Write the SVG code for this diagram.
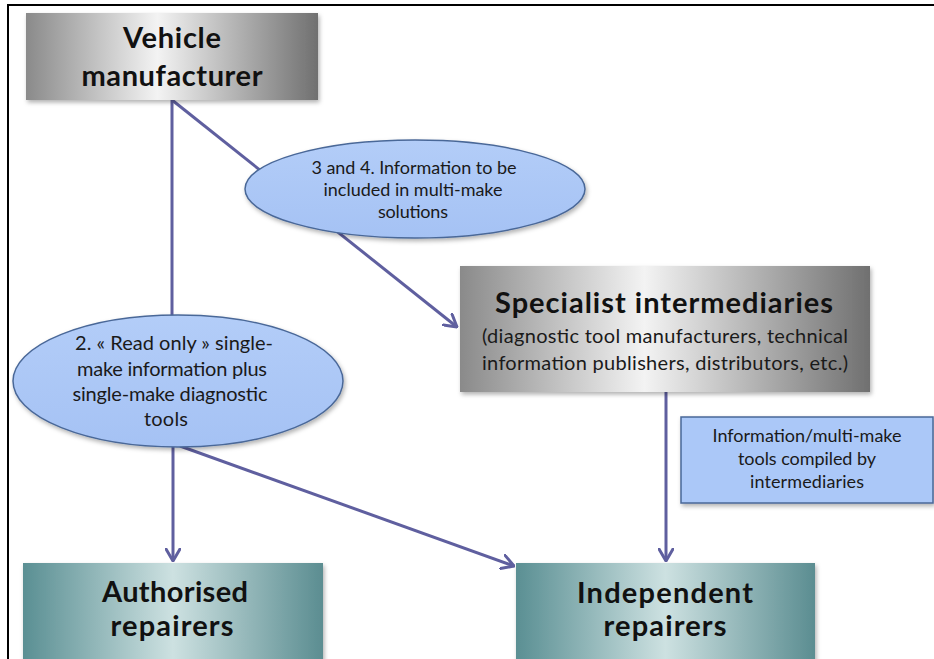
<svg xmlns="http://www.w3.org/2000/svg" width="934" height="659" viewBox="0 0 934 659">
  <style>
    .title { font-family: Lato, "Open Sans", "Liberation Sans", sans-serif; font-weight: bold; font-size: 29px; fill: #111; text-anchor: middle; }
    .sub { font-family: Lato, "Open Sans", "Liberation Sans", sans-serif; font-size: 20px; fill: #1a1a1a; text-anchor: middle; }
    .note { font-family: Lato, "Open Sans", "Liberation Sans", sans-serif; font-size: 18px; fill: #1a1a1a; text-anchor: middle; }
    .conn { stroke: #5f5f9f; stroke-width: 3; fill: none; }
    .bubble { fill: url(#blueFill); stroke: #4a6898; stroke-width: 1.5; filter: url(#shadow); }
  </style>
  <defs>
    <linearGradient id="grayFill" x1="0" y1="0" x2="1" y2="0">
      <stop offset="0" stop-color="#8a8a8a"/>
      <stop offset="0.45" stop-color="#f3f3f3"/>
      <stop offset="1" stop-color="#707070"/>
    </linearGradient>
    <linearGradient id="tealFill" x1="0" y1="0" x2="1" y2="0">
      <stop offset="0" stop-color="#5a8f93"/>
      <stop offset="0.5" stop-color="#cde1e1"/>
      <stop offset="1" stop-color="#5b8d91"/>
    </linearGradient>
    <linearGradient id="blueFill" x1="0" y1="0" x2="0" y2="1">
      <stop offset="0" stop-color="#b3cdf8"/>
      <stop offset="1" stop-color="#a5c2f4"/>
    </linearGradient>
    <filter id="shadow" x="-10%" y="-10%" width="125%" height="130%">
      <feDropShadow dx="1.5" dy="2.5" stdDeviation="2" flood-color="#000" flood-opacity="0.3"/>
    </filter>
    <marker id="chevron" viewBox="0 0 14 16" refX="13" refY="8" markerWidth="14" markerHeight="16" markerUnits="userSpaceOnUse" orient="auto">
      <path d="M1,1 L13,8 L1,15" fill="none" stroke="#5f5f9f" stroke-width="3" stroke-linecap="round" stroke-linejoin="round"/>
    </marker>
  </defs>

  <rect x="0" y="0" width="934" height="659" fill="#fff"/>

  <!-- page frame -->
  <path d="M8,659 L8,5 L934,5" fill="none" stroke="#000" stroke-width="2"/>

  <!-- connectors -->
  <g id="connectors">
    <line class="conn" x1="172" y1="100" x2="172" y2="330"/>
    <line class="conn" x1="172" y1="100" x2="457" y2="327" marker-end="url(#chevron)"/>
    <line class="conn" x1="173" y1="440" x2="173" y2="561" marker-end="url(#chevron)"/>
    <line class="conn" x1="180" y1="446" x2="514" y2="566" marker-end="url(#chevron)"/>
    <line class="conn" x1="666" y1="392" x2="666" y2="561" marker-end="url(#chevron)"/>
  </g>

  <g id="vehicle-manufacturer">
    <rect x="26" y="13" width="292" height="87" fill="url(#grayFill)" filter="url(#shadow)"/>
    <text class="title" x="172" y="48" textLength="98">Vehicle</text>
    <text class="title" x="172" y="86" textLength="181">manufacturer</text>
  </g>

  <g id="info-multi-make">
    <ellipse class="bubble" cx="415" cy="189" rx="170" ry="49"/>
    <text class="note" x="414" y="174" textLength="205">3 and 4. Information to be</text>
    <text class="note" x="413" y="196" textLength="179">included in multi-make</text>
    <text class="note" x="413" y="218" textLength="70">solutions</text>
  </g>

  <g id="specialist-intermediaries">
    <rect x="460" y="266" width="410" height="126" fill="url(#grayFill)" filter="url(#shadow)"/>
    <text class="title" x="664" y="313" textLength="338">Specialist intermediaries</text>
    <text class="sub" x="665" y="343" textLength="366">(diagnostic tool manufacturers, technical</text>
    <text class="sub" x="665" y="370" textLength="366">information publishers, distributors, etc.)</text>
  </g>

  <g id="read-only-info">
    <ellipse class="bubble" cx="178" cy="381" rx="165" ry="66"/>
    <text class="sub" x="174" y="350" textLength="198">2. « Read only » single-</text>
    <text class="sub" x="172" y="376" textLength="190">make information plus</text>
    <text class="sub" x="170" y="401" textLength="195">single-make diagnostic</text>
    <text class="sub" x="166" y="426" textLength="44">tools</text>
  </g>

  <g id="compiled-tools">
    <rect x="681" y="417" width="252" height="86" fill="#abc8f8" stroke="#4a6898" stroke-width="1.5" filter="url(#shadow)"/>
    <text class="note" x="807" y="442" textLength="189">Information/multi-make</text>
    <text class="note" x="807" y="465" textLength="138">tools compiled by</text>
    <text class="note" x="807" y="488" textLength="114">intermediaries</text>
  </g>

  <g id="authorised-repairers">
    <rect x="23" y="563" width="300" height="110" fill="url(#tealFill)" filter="url(#shadow)"/>
    <text class="title" x="175" y="602" textLength="146">Authorised</text>
    <text class="title" x="172" y="636" textLength="123">repairers</text>
  </g>

  <g id="independent-repairers">
    <rect x="516" y="563" width="299" height="110" fill="url(#tealFill)" filter="url(#shadow)"/>
    <text class="title" x="665" y="603" textLength="176">Independent</text>
    <text class="title" x="665" y="636" textLength="123">repairers</text>
  </g>
</svg>
